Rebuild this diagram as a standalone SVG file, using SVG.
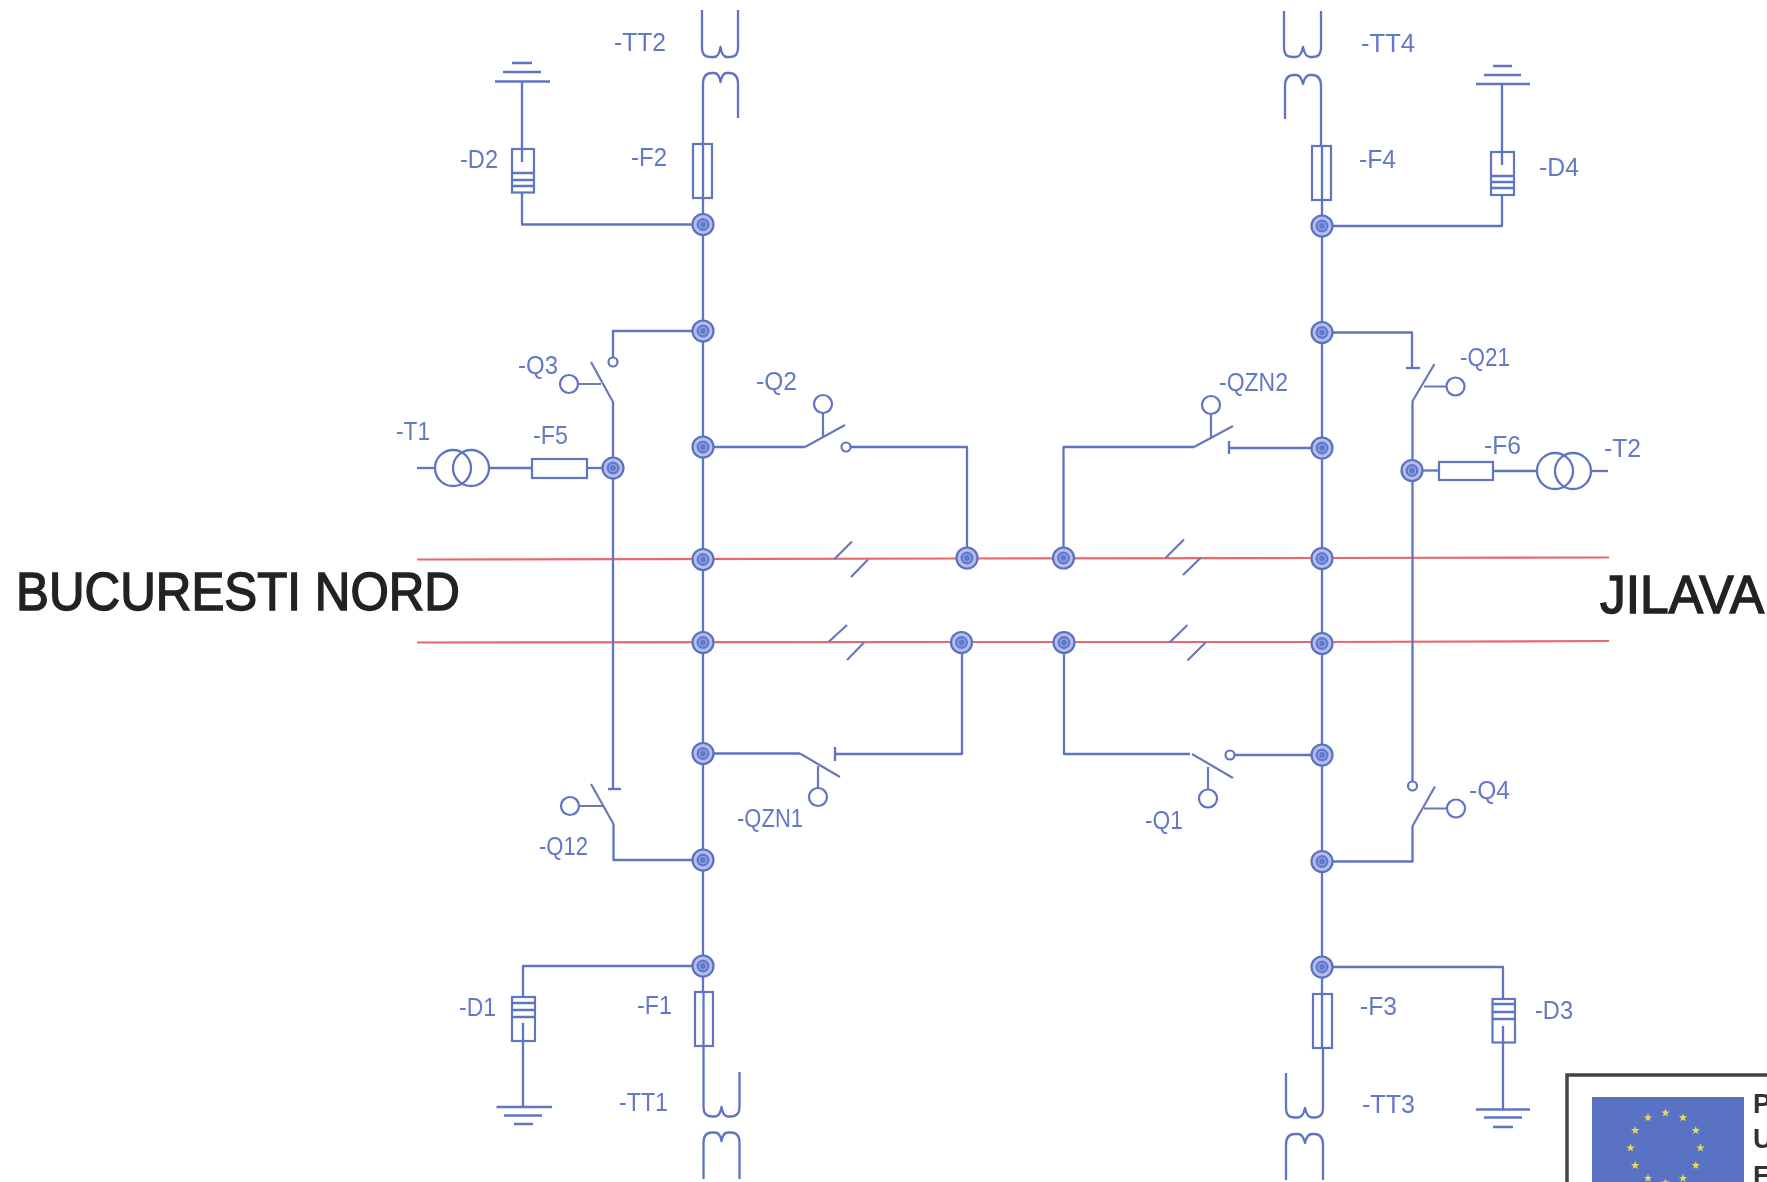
<svg xmlns="http://www.w3.org/2000/svg" xmlns:xlink="http://www.w3.org/1999/xlink" width="1767" height="1182" viewBox="0 0 1767 1182">
<style>
.w{fill:none;stroke:#5f74c2;stroke-width:2.3;stroke-linejoin:round}
.r{fill:none;stroke:#e8686e;stroke-width:2.2}
.s{fill:none;stroke:#6a78b8;stroke-width:2.2}
.b{fill:#fff;stroke:#5f74c2;stroke-width:2.2}
.t{font-family:"Liberation Sans",Arial,sans-serif;font-size:25px;fill:#6379c6;letter-spacing:0}
.h{font-family:"Liberation Sans",Arial,sans-serif;font-size:54px;fill:#222;stroke:#222;stroke-width:1.5}
.p{font-family:"Liberation Sans",Arial,sans-serif;font-size:27px;font-weight:bold;fill:#333}
</style>
<defs>
<filter id="soft" x="0" y="0" width="100%" height="100%"><feGaussianBlur stdDeviation="0.5"/></filter>
<g id="n"><circle r="10.500" fill="#b4bfe9" stroke="#5a70c2" stroke-width="2.2"/><circle r="6.500" fill="#6179cf"/><circle r="3.500" fill="none" stroke="#9aa8e0" stroke-width="1.2"/></g>
<polygon id="star" fill="#e8dc50" points="0,-4.500 1.100,-1.400 4.300,-1.400 1.700,.5 2.600,3.600 0,1.800 -2.600,3.600 -1.700,.5 -4.300,-1.400 -1.100,-1.400"/>
</defs>
<rect width="1767" height="1182" fill="#fff"/>
<g filter="url(#soft)">
<g id="connectors">
<path class="r" d="M417 559.500L967 558.500L1322 558L1609 557.500"/>
<path class="r" d="M417 642.500L961 642L1322 642L1609 641"/>
<path class="w" d="M703 144V860M703 860V991"/>
<path class="w" d="M1322 145V1048"/>
<path class="w" d="M703 224.500H522V192"/>
<path class="w" d="M1322 226H1502V195"/>
<path class="w" d="M703 331H613V357"/>
<path class="w" d="M613 402V789"/>
<path class="w" d="M1322 332.500H1412V368"/>
<path class="w" d="M1412.500 402V781"/>
<path class="w" d="M703 447H805"/>
<path class="w" d="M851 447H967V558"/>
<path class="w" d="M1322 448H1229"/>
<path class="w" d="M1194 447H1063.500V558"/>
<path class="w" d="M703 753.500H800"/>
<path class="w" d="M835 754H962V642"/>
<path class="w" d="M1322 755H1235"/>
<path class="w" d="M1190 754H1064V642"/>
<path class="w" d="M613.500 824V860H703"/>
<path class="w" d="M1412.500 826V861.500H1322"/>
<path class="w" d="M703 966H523V996"/>
<path class="w" d="M1322 967H1503V999"/>
<path class="w" d="M613 468H587"/>
<path class="w" d="M532 468H489"/>
<path class="w" d="M1412 470.500H1439"/>
<path class="w" d="M1493 471H1537"/>
</g>

<g id="TT2"><path class="w" d="M702 10V48Q702 57 710 57H714Q719 57 720.500 47Q722 57 727 57H730Q738 57 738 48V10"/><path class="w" d="M703 144V84Q703 73 712 73H714Q719 73 720.500 82Q722 73 727 73H729Q738 73 738 84V118"/><text class="t" x="614" y="51" textLength="52" lengthAdjust="spacingAndGlyphs">-TT2</text></g>
<g id="TT4"><path class="w" d="M1284 11V48Q1284 57 1292 57H1296Q1301 57 1303 47Q1305 57 1310 57H1313Q1321 57 1321 48V11"/><path class="w" d="M1285 119V86Q1285 75 1294 75H1296Q1301 75 1303 84Q1305 75 1310 75H1312Q1321 75 1321 86V145"/><text class="t" x="1361" y="52" textLength="54" lengthAdjust="spacingAndGlyphs">-TT4</text></g>
<g id="TT1"><path class="w" d="M703.500 1045V1107Q703.500 1116.500 712 1116.500H715Q720 1116.500 721.500 1107Q723 1116.500 728 1116.500H731Q739.500 1116.500 739.500 1107V1072"/><path class="w" d="M703.500 1179V1143Q703.500 1132.500 712 1132.500H715Q720 1132.500 721.500 1141Q723 1132.500 728 1132.500H731Q739.500 1132.500 739.500 1143V1179"/><text class="t" x="619" y="1111" textLength="49" lengthAdjust="spacingAndGlyphs">-TT1</text></g>
<g id="TT3"><path class="w" d="M1286 1073V1108Q1286 1117.500 1294 1117.500H1298Q1303 1117.500 1305 1108Q1307 1117.500 1312 1117.500H1315Q1323 1117.500 1323 1108V1048"/><path class="w" d="M1286 1180V1145Q1286 1134 1295 1134H1298Q1303 1134 1305 1143Q1307 1134 1312 1134H1314Q1323 1134 1323 1145V1180"/><text class="t" x="1362" y="1113" textLength="53" lengthAdjust="spacingAndGlyphs">-TT3</text></g>

<g id="F2"><rect class="b" x="693" y="144" width="19" height="54" fill-opacity="0"/><text class="t" x="631" y="166" textLength="36" lengthAdjust="spacingAndGlyphs">-F2</text></g>
<g id="F4"><rect class="b" x="1312" y="146" width="19" height="54" fill-opacity="0"/><text class="t" x="1359" y="168" textLength="37" lengthAdjust="spacingAndGlyphs">-F4</text></g>
<g id="F1"><path class="w" d="M703.500 991V1045"/><rect class="b" x="695" y="992" width="18" height="54" fill-opacity="0"/><text class="t" x="637" y="1014" textLength="35" lengthAdjust="spacingAndGlyphs">-F1</text></g>
<g id="F3"><rect class="b" x="1313" y="994" width="19" height="54" fill-opacity="0"/><text class="t" x="1360" y="1015" textLength="37" lengthAdjust="spacingAndGlyphs">-F3</text></g>
<g id="F5"><rect class="b" x="532" y="459" width="55" height="19"/><text class="t" x="533" y="444" textLength="35" lengthAdjust="spacingAndGlyphs">-F5</text></g>
<g id="F6"><rect class="b" x="1439" y="462" width="54" height="18"/><text class="t" x="1484" y="454" textLength="37" lengthAdjust="spacingAndGlyphs">-F6</text></g>

<g id="D2"><path class="w" d="M522 81.500V162M495 81.500H550M503 72H541M512 63H532"/><rect class="b" x="512" y="149" width="22" height="43.500" fill-opacity="0"/><path class="w" d="M512 173H534M512 180H534M512 186H534"/><text class="t" x="460" y="168" textLength="38" lengthAdjust="spacingAndGlyphs">-D2</text></g>
<g id="D4"><path class="w" d="M1502 84V165M1476 84H1530M1484 75H1521M1493 66H1512"/><rect class="b" x="1491" y="152" width="23" height="43" fill-opacity="0"/><path class="w" d="M1491 176H1514M1491 182H1514M1491 188H1514"/><text class="t" x="1539" y="176" textLength="40" lengthAdjust="spacingAndGlyphs">-D4</text></g>
<g id="D1"><path class="w" d="M523 1106V1023M496.500 1107H552M504 1115.500H542M514 1124H533"/><rect class="b" x="512" y="997" width="23" height="44" fill-opacity="0"/><path class="w" d="M512 1003H535M512 1010H535M512 1017H535"/><text class="t" x="459" y="1016" textLength="37" lengthAdjust="spacingAndGlyphs">-D1</text></g>
<g id="D3"><path class="w" d="M1503 1109V1026M1476 1109.500H1530M1484 1117.500H1522M1493 1127H1513"/><rect class="b" x="1492.500" y="999" width="22.500" height="43.500" fill-opacity="0"/><path class="w" d="M1492.500 1004H1515M1492.500 1012H1515M1492.500 1019H1515"/><text class="t" x="1535" y="1019" textLength="38" lengthAdjust="spacingAndGlyphs">-D3</text></g>

<g id="T1"><path class="w" d="M417 468H435"/><circle class="w" cx="453" cy="468" r="18"/><circle class="w" cx="471" cy="468" r="18"/><text class="t" x="396" y="440" textLength="34" lengthAdjust="spacingAndGlyphs">-T1</text></g>
<g id="T2"><circle class="w" cx="1555" cy="471" r="18"/><circle class="w" cx="1573" cy="471" r="18"/><path class="w" d="M1591 471H1608"/><text class="t" x="1604" y="457" textLength="37" lengthAdjust="spacingAndGlyphs">-T2</text></g>

<g id="Q3"><circle class="b" cx="613" cy="362" r="4.500"/><path class="s" d="M613 402L591 362M601 384H578"/><circle class="b" cx="569" cy="384" r="9"/><text class="t" x="518" y="374" textLength="40" lengthAdjust="spacingAndGlyphs">-Q3</text></g>
<g id="Q12"><path class="w" d="M608 789H621"/><path class="s" d="M613.500 824L591 784M603 806H579"/><circle class="b" cx="570" cy="806" r="9"/><text class="t" x="539" y="855" textLength="49" lengthAdjust="spacingAndGlyphs">-Q12</text></g>
<g id="Q21"><path class="w" d="M1406 368H1420"/><path class="s" d="M1412 402L1434.500 364M1424 386.500H1447"/><circle class="b" cx="1455.500" cy="386.500" r="9"/><text class="t" x="1460" y="366" textLength="50" lengthAdjust="spacingAndGlyphs">-Q21</text></g>
<g id="Q4"><circle class="b" cx="1412.500" cy="786" r="4.500"/><path class="s" d="M1412.500 826L1435 786.500M1424 808.500H1447"/><circle class="b" cx="1456" cy="808.500" r="9"/><text class="t" x="1469" y="799" textLength="41" lengthAdjust="spacingAndGlyphs">-Q4</text></g>
<g id="Q2"><path class="s" d="M805 447L845 425M823 437V413"/><circle class="b" cx="823" cy="404" r="9"/><circle class="b" cx="846" cy="447" r="4.500"/><text class="t" x="756" y="390" textLength="41" lengthAdjust="spacingAndGlyphs">-Q2</text></g>
<g id="QZN2"><path class="w" d="M1229 441V454"/><path class="s" d="M1194 447L1233 426M1211 437V414"/><circle class="b" cx="1211" cy="405" r="9"/><text class="t" x="1219" y="391" textLength="69" lengthAdjust="spacingAndGlyphs">-QZN2</text></g>
<g id="QZN1"><path class="w" d="M835 747V761"/><path class="s" d="M800 753.500L840 777M818 766V788"/><circle class="b" cx="818" cy="797" r="9"/><text class="t" x="737" y="827" textLength="66" lengthAdjust="spacingAndGlyphs">-QZN1</text></g>
<g id="Q1"><circle class="b" cx="1230" cy="755" r="4.500"/><path class="s" d="M1192 754L1233 778M1208 767V789"/><circle class="b" cx="1208" cy="798.500" r="9"/><text class="t" x="1145" y="829" textLength="38" lengthAdjust="spacingAndGlyphs">-Q1</text></g>

<g id="slashes">
<path class="s" d="M834 559.500L852 541.500M851 577L868 559.500"/>
<path class="s" d="M1165.500 558L1184 539.500M1183 575L1201 557.500"/>
<path class="s" d="M828.500 642L847 625M847 660L864 642.500"/>
<path class="s" d="M1169.500 642.500L1187.500 625M1187.500 660.500L1205.500 642.500"/>
</g>

<g id="junctions">
<use xlink:href="#n" x="703" y="224.500"/><use xlink:href="#n" x="703" y="331"/><use xlink:href="#n" x="703" y="447"/><use xlink:href="#n" x="703" y="559.500"/><use xlink:href="#n" x="703" y="642.500"/><use xlink:href="#n" x="703" y="753.500"/><use xlink:href="#n" x="703" y="860"/><use xlink:href="#n" x="703" y="966"/>
<use xlink:href="#n" x="1322" y="226"/><use xlink:href="#n" x="1322" y="332.500"/><use xlink:href="#n" x="1322" y="448"/><use xlink:href="#n" x="1322" y="558.500"/><use xlink:href="#n" x="1322" y="643.500"/><use xlink:href="#n" x="1322" y="755"/><use xlink:href="#n" x="1322" y="861.500"/><use xlink:href="#n" x="1322" y="967"/>
<use xlink:href="#n" x="967" y="558"/><use xlink:href="#n" x="1063.500" y="558"/><use xlink:href="#n" x="961.500" y="642.500"/><use xlink:href="#n" x="1064" y="642.500"/><use xlink:href="#n" x="613" y="468"/><use xlink:href="#n" x="1412" y="470.500"/>
</g>

<g id="stations">
<text class="h" x="16" y="610" textLength="444" lengthAdjust="spacingAndGlyphs">BUCURESTI NORD</text>
<text class="h" x="1600" y="613" textLength="164" lengthAdjust="spacingAndGlyphs">JILAVA</text>
</g>

<g id="logo">
<rect x="1567" y="1075" width="260" height="150" fill="#fff" stroke="#444" stroke-width="3.500"/>
<rect x="1592" y="1097" width="152" height="100" fill="#5a72c4"/>
<use xlink:href="#star" x="1665.500" y="1113"/><use xlink:href="#star" x="1683" y="1117.700"/><use xlink:href="#star" x="1695.800" y="1130.500"/><use xlink:href="#star" x="1700.500" y="1148"/><use xlink:href="#star" x="1695.800" y="1165.500"/><use xlink:href="#star" x="1683" y="1178.300"/><use xlink:href="#star" x="1665.500" y="1183"/><use xlink:href="#star" x="1648" y="1178.300"/><use xlink:href="#star" x="1635.200" y="1165.500"/><use xlink:href="#star" x="1630.500" y="1148"/><use xlink:href="#star" x="1635.200" y="1130.500"/><use xlink:href="#star" x="1648" y="1117.700"/>
<text class="p" x="1753" y="1113">P</text>
<text class="p" x="1753" y="1148">U</text>
<text class="p" x="1753" y="1185">E</text>
</g>
</g>
</svg>
